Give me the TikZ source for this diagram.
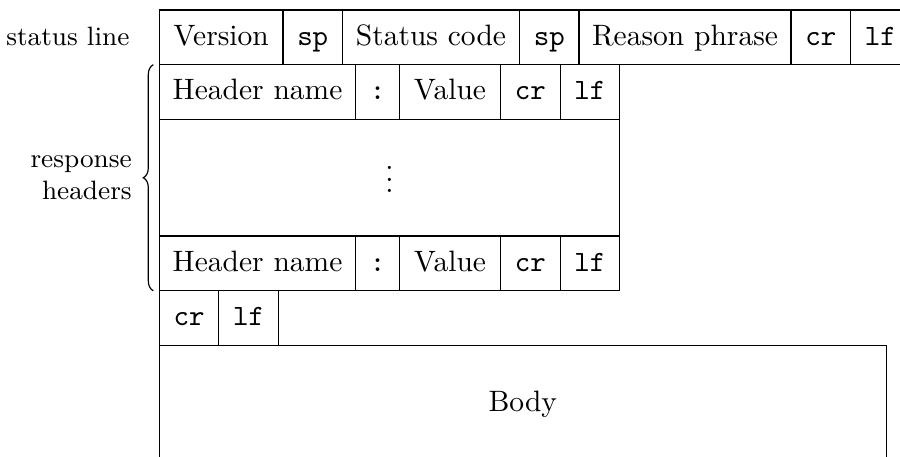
\documentclass[tikz,border=0pt]{standalone}
\usetikzlibrary{positioning,decorations.pathreplacing,calc}
\begin{document}
\begin{tikzpicture}[x=0.33898pt, y=-0.33898pt,
  node distance=0pt,
  cell/.style={draw, inner sep=0pt, outer sep=0pt, minimum height=18.54pt,
    text height=7pt, text depth=1.8pt},
  tall/.style={draw, inner sep=0pt, outer sep=0pt, minimum height=39.56pt},
  ctl/.style={cell, minimum width=20.17pt, font=\ttfamily},
  tag/.style={inner sep=0pt, font=\small}]
\clip (0,0) rectangle (900,457);

% status line
\node[cell, minimum width=41.93pt, anchor=north west] (ver) at (159.3,10) {Version};
\node[ctl, right=of ver] (sp1) {sp};
\node[cell, minimum width=60pt, right=of sp1] (code) {Status code};
\node[ctl, right=of code] (sp2) {sp};
\node[cell, minimum width=71.86pt, right=of sp2] (reason) {Reason phrase};
\node[ctl, right=of reason] (scr) {cr};
\node[ctl, right=of scr] (slf) {lf};

% first header
\node[cell, minimum width=66.58pt, anchor=north west] (hname1) at (ver.south west) {Header name};
\node[cell, minimum width=14.78pt, font=\ttfamily, right=of hname1] (colon1) {:};
\node[cell, minimum width=34.37pt, right=of colon1] (val1) {Value};
\node[ctl, right=of val1] (hcr1) {cr};
\node[ctl, right=of hcr1] (hlf1) {lf};

% further headers
\node[tall, minimum width=156.07pt, anchor=north west] (more) at (hname1.south west) {};
\node[yshift=2.4pt] (dots) at (more.center) {$\vdots$};

% last header
\node[cell, minimum width=66.58pt, anchor=north west] (hname2) at (more.south west) {Header name};
\node[cell, minimum width=14.78pt, font=\ttfamily, right=of hname2] (colon2) {:};
\node[cell, minimum width=34.37pt, right=of colon2] (val2) {Value};
\node[ctl, right=of val2] (hcr2) {cr};
\node[ctl, right=of hcr2] (hlf2) {lf};

% empty line
\node[ctl, anchor=north west] (ecr) at (hname2.south west) {cr};
\node[ctl, right=of ecr] (elf) {lf};

% body
\node[tall, minimum width=246.44pt, anchor=north west] (body) at (ecr.south west) {Body};

% labels
\node[tag, text height=7pt, text depth=1.8pt, left=9.93pt of ver] (stat) {status line};
\coordinate (btop) at ([xshift=-2.03pt]hname1.north west);
\coordinate (bbot) at ([xshift=-2.03pt]hname2.south west);
\draw[decorate, decoration={brace, amplitude=3.39pt}] (bbot) -- (btop);
\coordinate (btip) at ($(btop)!0.5!(bbot) + (-3.39pt,0)$);
\node[tag, align=right, anchor=east] (resp) at ([xshift=-3.73pt]btip) {response\\headers};
\end{tikzpicture}
\end{document}
